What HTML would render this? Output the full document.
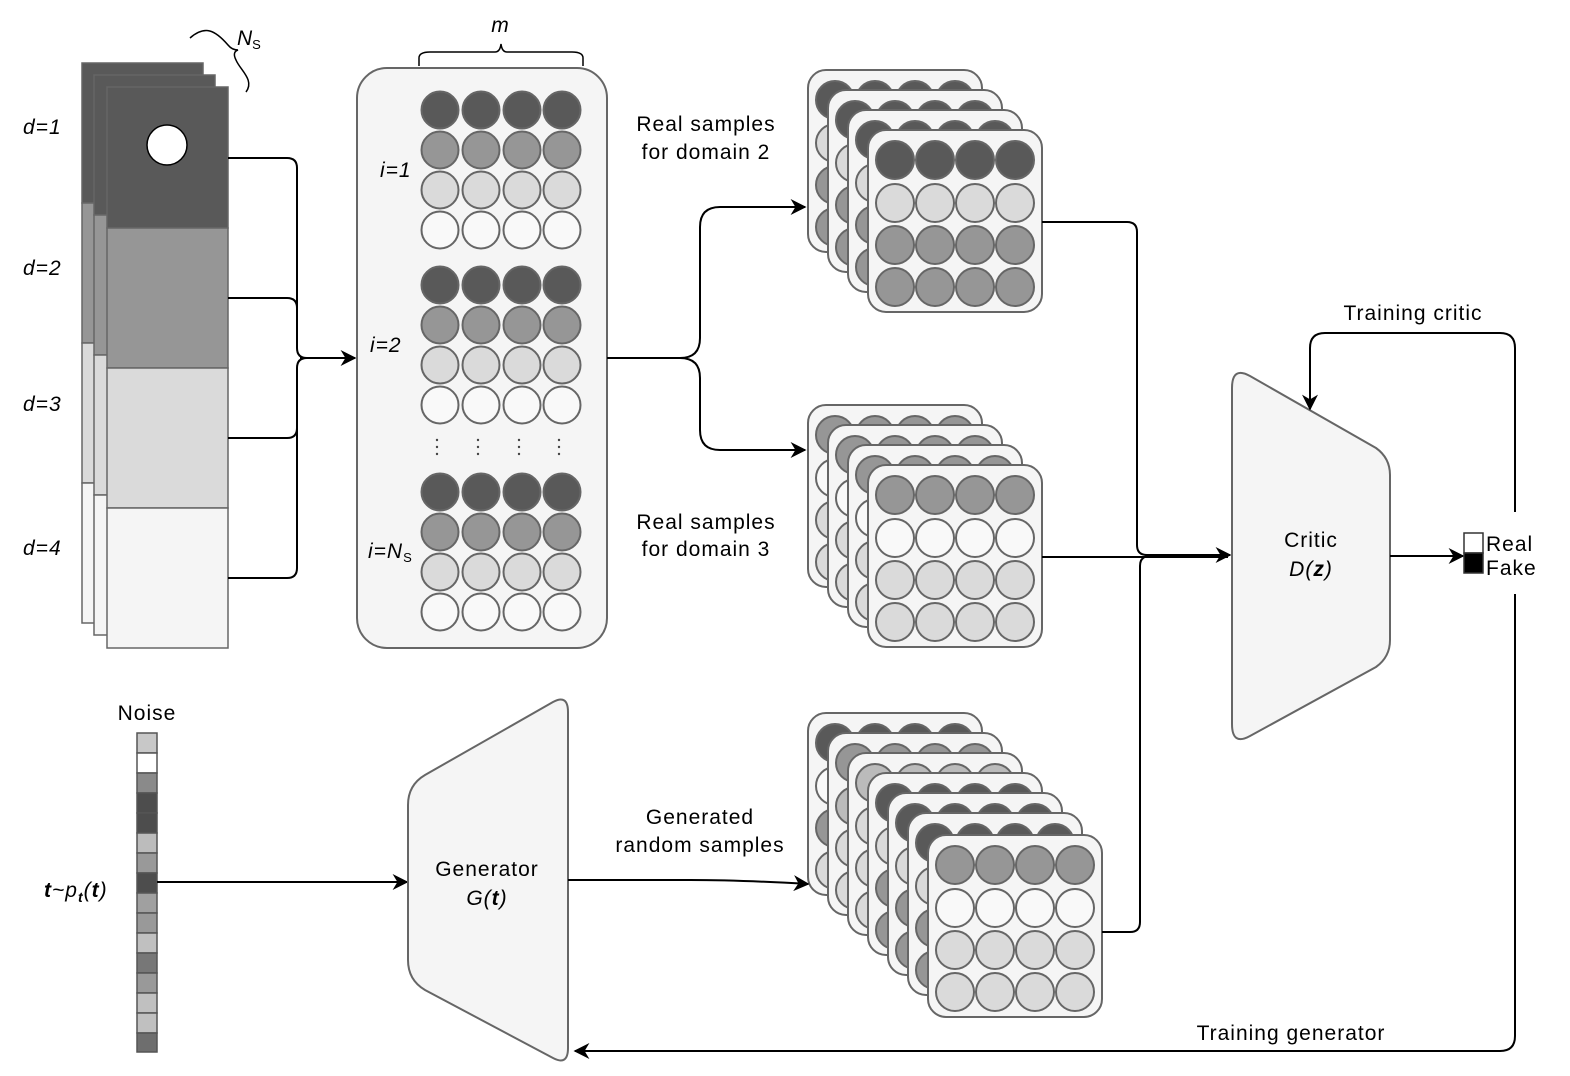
<!DOCTYPE html>
<html><head><meta charset="utf-8"><style>
html,body{margin:0;padding:0;background:#fff;}
svg{display:block;font-family:"Liberation Sans",sans-serif;}
.t{font-size:21px;letter-spacing:1px;}
</style></head><body>
<svg width="1570" height="1076" viewBox="0 0 1570 1076" xmlns="http://www.w3.org/2000/svg" xmlns:xlink="http://www.w3.org/1999/xlink">
<defs>
<g id="row" stroke="#666" stroke-width="2"><circle cx="0" cy="0" r="19"/><circle cx="40" cy="0" r="19"/><circle cx="80" cy="0" r="19"/><circle cx="120" cy="0" r="19"/></g>
<g id="rowB" stroke="#666" stroke-width="2"><circle cx="0" cy="0" r="18.5"/><circle cx="41" cy="0" r="18.5"/><circle cx="82" cy="0" r="18.5"/><circle cx="122" cy="0" r="18.5"/></g>
<rect id="card" x="0" y="0" width="174" height="182" rx="18" fill="#f5f5f5" stroke="#666" stroke-width="2"/>
<marker id="ar" viewBox="0 0 10 10" refX="9" refY="5" markerWidth="16" markerHeight="16" orient="auto" markerUnits="userSpaceOnUse"><path d="M0,0 L10,5 L0,10 L3,5 z" fill="#000"/></marker>
<g id="cD2"><use xlink:href="#card"/><use xlink:href="#row" x="27" y="30" fill="#595959"/><use xlink:href="#row" x="27" y="73" fill="#dadada"/><use xlink:href="#row" x="27" y="115" fill="#969696"/><use xlink:href="#row" x="27" y="157" fill="#969696"/></g>
<g id="cD3"><use xlink:href="#card"/><use xlink:href="#row" x="27" y="30" fill="#969696"/><use xlink:href="#row" x="27" y="73" fill="#f9f9f9"/><use xlink:href="#row" x="27" y="115" fill="#dadada"/><use xlink:href="#row" x="27" y="157" fill="#dadada"/></g>
</defs>

<g stroke="#666" stroke-width="1.5">
<rect x="82" y="63" width="121" height="140" fill="#595959"/><rect x="82" y="203" width="121" height="140" fill="#969696"/><rect x="82" y="343" width="121" height="140" fill="#dadada"/><rect x="82" y="483" width="121" height="140" fill="#f5f5f5"/>
<rect x="94" y="75" width="121" height="140" fill="#595959"/><rect x="94" y="215" width="121" height="140" fill="#969696"/><rect x="94" y="355" width="121" height="140" fill="#dadada"/><rect x="94" y="495" width="121" height="140" fill="#f5f5f5"/>
<rect x="107" y="87" width="121" height="141" fill="#595959"/><rect x="107" y="228" width="121" height="140" fill="#969696"/><rect x="107" y="368" width="121" height="140" fill="#dadada"/><rect x="107" y="508" width="121" height="140" fill="#f5f5f5"/>
</g>
<circle cx="167" cy="145" r="20" fill="#fff" stroke="#000" stroke-width="1.5"/>
<g font-size="21" font-style="italic" fill="#000" letter-spacing="1">
<text x="23" y="134">d=1</text><text x="23" y="275">d=2</text><text x="23" y="411">d=3</text><text x="23" y="555">d=4</text>
</g>
<path d="M190,38 C205,25 215,30 228,45 Q232,50 238,50 Q232,52 236,60 C240,70 255,80 246,92" fill="none" stroke="#000" stroke-width="1.5"/>
<text x="237" y="45" font-size="21" font-style="italic">N<tspan font-size="13" font-style="normal" dy="4">S</tspan></text>

<g fill="none" stroke="#000" stroke-width="2">
<path d="M228,158 H287 Q297,158 297,168 V348 Q297,358 307,358"/>
<path d="M228,298 H287 Q297,298 297,308 V348"/>
<path d="M228,438 H287 Q297,438 297,428 V368 Q297,358 307,358"/>
<path d="M228,578 H287 Q297,578 297,568 V368"/>
<path d="M300,358 H355" marker-end="url(#ar)"/>
</g>

<path d="M419,66 V58 Q419,52 430,52 H495 Q500,52 501,44 Q502,52 507,52 H572 Q583,52 583,58 V66" fill="none" stroke="#000" stroke-width="1.5"/>
<text x="500" y="32" font-size="21" font-style="italic" text-anchor="middle">m</text>
<rect x="357" y="68" width="250" height="580" rx="30" fill="#f5f5f5" stroke="#666" stroke-width="2"/>
<use xlink:href="#rowB" x="440" y="110" fill="#595959"/><use xlink:href="#rowB" x="440" y="150" fill="#969696"/><use xlink:href="#rowB" x="440" y="190" fill="#dadada"/><use xlink:href="#rowB" x="440" y="230" fill="#f9f9f9"/>
<use xlink:href="#rowB" x="440" y="285" fill="#595959"/><use xlink:href="#rowB" x="440" y="325" fill="#969696"/><use xlink:href="#rowB" x="440" y="365" fill="#dadada"/><use xlink:href="#rowB" x="440" y="405" fill="#f9f9f9"/>
<use xlink:href="#rowB" x="440" y="492" fill="#595959"/><use xlink:href="#rowB" x="440" y="532" fill="#969696"/><use xlink:href="#rowB" x="440" y="572" fill="#dadada"/><use xlink:href="#rowB" x="440" y="612" fill="#f9f9f9"/>
<g fill="#444"><circle cx="437" cy="440" r="1.2"/><circle cx="437" cy="447" r="1.2"/><circle cx="437" cy="454" r="1.2"/>
<circle cx="478" cy="440" r="1.2"/><circle cx="478" cy="447" r="1.2"/><circle cx="478" cy="454" r="1.2"/>
<circle cx="519" cy="440" r="1.2"/><circle cx="519" cy="447" r="1.2"/><circle cx="519" cy="454" r="1.2"/>
<circle cx="559" cy="440" r="1.2"/><circle cx="559" cy="447" r="1.2"/><circle cx="559" cy="454" r="1.2"/></g>
<g font-size="21" font-style="italic" letter-spacing="1">
<text x="380" y="177">i=1</text><text x="370" y="352">i=2</text><text x="368" y="558">i=N<tspan font-size="13" font-style="normal" dy="4">S</tspan></text>
</g>

<g fill="none" stroke="#000" stroke-width="2">
<path d="M607,358 H680 Q700,358 700,338 V227 Q700,207 720,207 H805" marker-end="url(#ar)"/>
<path d="M680,358 Q700,358 700,378 V430 Q700,450 720,450 H805" marker-end="url(#ar)"/>
</g>
<g class="t" text-anchor="middle">
<text x="706" y="131">Real samples</text><text x="706" y="159">for domain 2</text>
<text x="706" y="529">Real samples</text><text x="706" y="556">for domain 3</text>
<text x="700" y="824">Generated</text><text x="700" y="852">random samples</text>
</g>

<use xlink:href="#cD2" x="808" y="70"/><use xlink:href="#cD2" x="828" y="90"/><use xlink:href="#cD2" x="848" y="110"/><use xlink:href="#cD2" x="868" y="130"/>
<use xlink:href="#cD3" x="808" y="405"/><use xlink:href="#cD3" x="828" y="425"/><use xlink:href="#cD3" x="848" y="445"/><use xlink:href="#cD3" x="868" y="465"/>

<g>
<g transform="translate(808,713)"><use xlink:href="#card"/><use xlink:href="#row" x="27" y="30" fill="#595959"/><use xlink:href="#row" x="27" y="73" fill="#f9f9f9"/><use xlink:href="#row" x="27" y="115" fill="#969696"/><use xlink:href="#row" x="27" y="157" fill="#dadada"/></g>
<g transform="translate(828,733)"><use xlink:href="#card"/><use xlink:href="#row" x="27" y="30" fill="#969696"/><use xlink:href="#row" x="27" y="73" fill="#bbbbbb"/><use xlink:href="#row" x="27" y="115" fill="#dadada"/><use xlink:href="#row" x="27" y="157" fill="#dadada"/></g>
<g transform="translate(848,753)"><use xlink:href="#card"/><use xlink:href="#row" x="27" y="30" fill="#bbbbbb"/><use xlink:href="#row" x="27" y="73" fill="#dadada"/><use xlink:href="#row" x="27" y="115" fill="#dadada"/><use xlink:href="#row" x="27" y="157" fill="#dadada"/></g>
<g transform="translate(868,773)"><use xlink:href="#card"/><use xlink:href="#row" x="27" y="30" fill="#595959"/><use xlink:href="#row" x="27" y="73" fill="#dadada"/><use xlink:href="#row" x="27" y="115" fill="#969696"/><use xlink:href="#row" x="27" y="157" fill="#969696"/></g>
<g transform="translate(888,793)"><use xlink:href="#card"/><use xlink:href="#row" x="27" y="30" fill="#595959"/><use xlink:href="#row" x="27" y="73" fill="#dadada"/><use xlink:href="#row" x="27" y="115" fill="#969696"/><use xlink:href="#row" x="27" y="157" fill="#969696"/></g>
<g transform="translate(908,813)"><use xlink:href="#card"/><use xlink:href="#row" x="27" y="30" fill="#595959"/><use xlink:href="#row" x="27" y="73" fill="#dadada"/><use xlink:href="#row" x="27" y="115" fill="#969696"/><use xlink:href="#row" x="27" y="157" fill="#969696"/></g>
<g transform="translate(928,835)"><use xlink:href="#card"/><use xlink:href="#row" x="27" y="30" fill="#969696"/><use xlink:href="#row" x="27" y="73" fill="#f9f9f9"/><use xlink:href="#row" x="27" y="115" fill="#dadada"/><use xlink:href="#row" x="27" y="157" fill="#dadada"/></g>
</g>

<g fill="none" stroke="#000" stroke-width="2">
<path d="M1042,222 H1127 Q1137,222 1137,232 V545 Q1137,555 1147,555 H1230" marker-end="url(#ar)"/>
<path d="M1042,557 H1228"/>
<path d="M1102,932 H1130 Q1140,932 1140,922 V566 Q1140,556 1150,556"/>
</g>

<path d="M1232,388 Q1232,366 1250,376 L1376,448 Q1390,458 1390,475 V640 Q1390,657 1376,667 L1250,736 Q1232,746 1232,724 Z" fill="#f5f5f5" stroke="#666" stroke-width="2"/>
<text x="1311" y="547" class="t" text-anchor="middle">Critic</text>
<text x="1311" y="576" class="t" text-anchor="middle" font-style="italic">D(<tspan font-weight="bold">z</tspan>)</text>
<path d="M1390,556 H1463" fill="none" stroke="#000" stroke-width="2" marker-end="url(#ar)"/>
<rect x="1464" y="533" width="19" height="20" fill="#fff" stroke="#333" stroke-width="1.5"/>
<rect x="1464" y="553" width="19" height="20" fill="#000" stroke="#333" stroke-width="1.5"/>
<text x="1486" y="551" class="t">Real</text><text x="1486" y="575" class="t">Fake</text>

<g fill="none" stroke="#000" stroke-width="2">
<path d="M1515,512 V348 Q1515,333 1500,333 H1325 Q1310,333 1310,348 V409" marker-end="url(#ar)"/>
<path d="M1515,594 V1036 Q1515,1051 1500,1051 H575" marker-end="url(#ar)"/>
</g>
<text x="1413" y="320" class="t" text-anchor="middle">Training critic</text>
<text x="1291" y="1040" class="t" text-anchor="middle">Training generator</text>

<text x="147" y="720" class="t" text-anchor="middle">Noise</text>
<g stroke="#555" stroke-width="1.5">
<rect x="137" y="733" width="20" height="20" fill="#c8c8c8"/><rect x="137" y="753" width="20" height="20" fill="#fff"/><rect x="137" y="773" width="20" height="20" fill="#8a8a8a"/><rect x="137" y="793" width="20" height="20" fill="#4d4d4d"/><rect x="137" y="813" width="20" height="20" fill="#4d4d4d"/><rect x="137" y="833" width="20" height="20" fill="#bcbcbc"/><rect x="137" y="853" width="20" height="20" fill="#999"/><rect x="137" y="873" width="20" height="20" fill="#4d4d4d"/><rect x="137" y="893" width="20" height="20" fill="#a0a0a0"/><rect x="137" y="913" width="20" height="20" fill="#999"/><rect x="137" y="933" width="20" height="20" fill="#c0c0c0"/><rect x="137" y="953" width="20" height="20" fill="#777"/><rect x="137" y="973" width="20" height="20" fill="#999"/><rect x="137" y="993" width="20" height="20" fill="#c0c0c0"/><rect x="137" y="1013" width="20" height="20" fill="#c0c0c0"/><rect x="137" y="1033" width="20" height="19" fill="#6e6e6e"/>
</g>
<text x="44" y="897" font-size="21" font-style="italic" letter-spacing="1"><tspan font-weight="bold">t</tspan>~p<tspan font-size="14" font-weight="bold" dy="5">t</tspan><tspan dy="-5">(</tspan><tspan font-weight="bold">t</tspan>)</text>
<path d="M157,882 H407" fill="none" stroke="#000" stroke-width="2" marker-end="url(#ar)"/>

<path d="M408,805 Q408,785 425,775 L553,702 Q568,694 568,712 V1048 Q568,1066 553,1058 L425,990 Q408,980 408,960 Z" fill="#f5f5f5" stroke="#666" stroke-width="2"/>
<text x="487" y="876" class="t" text-anchor="middle">Generator</text>
<text x="487" y="905" class="t" text-anchor="middle" font-style="italic">G(<tspan font-weight="bold">t</tspan>)</text>
<path d="M568,880 H690 Q740,880 808,884" fill="none" stroke="#000" stroke-width="2" marker-end="url(#ar)"/>
</svg>
</body></html>
